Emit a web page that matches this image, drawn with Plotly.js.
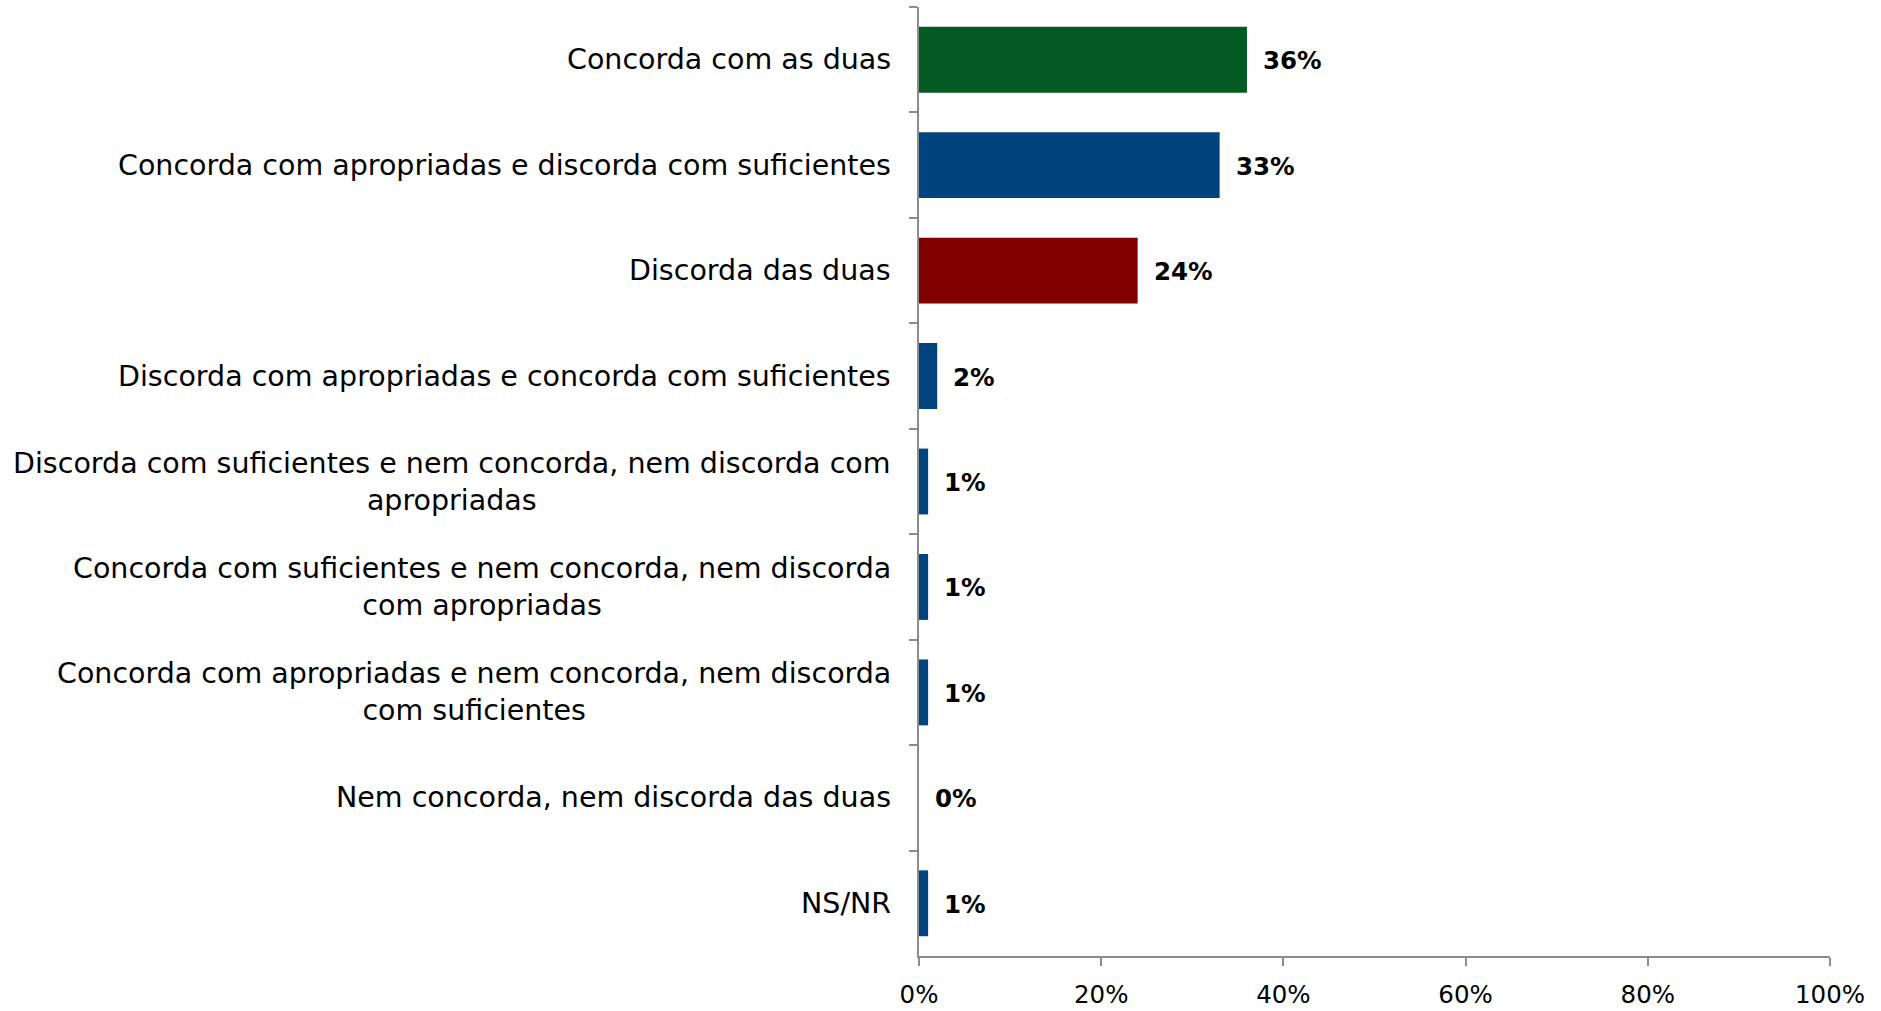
<!DOCTYPE html>
<html>
<head>
<meta charset="utf-8">
<script src="https://cdn.plot.ly/plotly-3.0.1.min.js"></script>
<style>html,body{margin:0;padding:0;background:#fff}#chart{width:1881px;height:1011px}</style>
</head>
<body>
<div id="chart"></div>
<script>
const categories = [
  "Concorda com as duas",
  "Concorda com apropriadas e discorda com suficientes",
  "Discorda das duas",
  "Discorda com apropriadas e concorda com suficientes",
  "Discorda com suficientes e nem concorda, nem discorda com<br>apropriadas",
  "Concorda com suficientes e nem concorda, nem discorda<br>com apropriadas",
  "Concorda com apropriadas e nem concorda, nem discorda<br>com suficientes",
  "Nem concorda, nem discorda das duas",
  "NS/NR"
];
const values = [0.36, 0.33, 0.24, 0.02, 0.01, 0.01, 0.01, 0.00, 0.01];
const valueLabels = ["36%", "33%", "24%", "2%", "1%", "1%", "1%", "0%", "1%"];
const barColors = ["#035a22", "#00437f", "#800000", "#00437f", "#00437f", "#00437f", "#00437f", "#00437f", "#00437f"];
const xTickVals = [0, 0.2, 0.4, 0.6, 0.8, 1.0];
const xTickText = ["0%", "20%", "40%", "60%", "80%", "100%"];

const ids = categories.map((c, i) => "c" + i);
const FONT = "DejaVu Sans, Verdana, sans-serif";

const trace = {
  type: "bar",
  orientation: "h",
  x: values,
  y: ids,
  marker: { color: barColors, line: { width: 0 } },
  hoverinfo: "skip"
};

const annotations = [];
categories.forEach((c, i) => {
  annotations.push({
    xref: "paper", yref: "y", x: 0, y: ids[i],
    text: c, showarrow: false, xanchor: "right", yanchor: "middle",
    align: "center", xshift: -26,
    font: { family: FONT, size: 28.5, color: "#000" }
  });
  annotations.push({
    xref: "x", yref: "y", x: values[i], y: ids[i],
    text: "<b>" + valueLabels[i] + "</b>", showarrow: false,
    xanchor: "left", yanchor: "middle", xshift: 14, yshift: -1,
    font: { family: FONT, size: 24.5, color: "#000" }
  });
});

const layout = {
  width: 1881, height: 1011,
  margin: { l: 919, r: 51, t: 7, b: 55, pad: 0 },
  paper_bgcolor: "#fff", plot_bgcolor: "#fff",
  showlegend: false,
  bargap: 0.375,
  xaxis: {
    range: [0, 1], tickvals: xTickVals, ticktext: xTickText,
    showgrid: false, zeroline: false,
    showline: true, linecolor: "#8c8c8c", linewidth: 2,
    ticks: "outside", ticklen: 8, tickcolor: "#8c8c8c", tickwidth: 2,
    ticklabelstandoff: 8,
    tickfont: { family: FONT, size: 24.5, color: "#000" }
  },
  yaxis: {
    type: "category", range: [8.5, -0.5],
    showticklabels: false, showgrid: false, zeroline: false,
    showline: true, linecolor: "#8c8c8c", linewidth: 2,
    ticks: "outside", ticklen: 8, tickcolor: "#8c8c8c", tickwidth: 2,
    tickson: "boundaries"
  },
  annotations: annotations
};

Plotly.newPlot("chart", [trace], layout, { staticPlot: true, displayModeBar: false });
</script>
</body>
</html>
